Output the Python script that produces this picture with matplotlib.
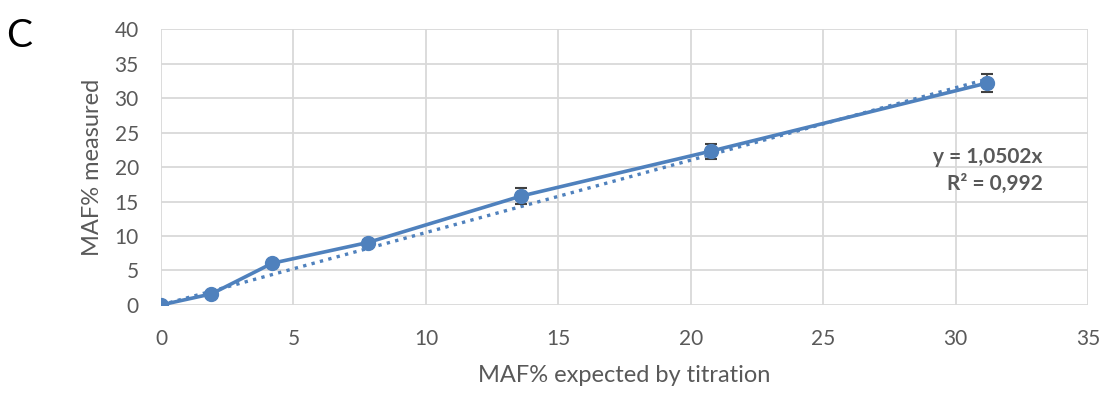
import matplotlib
matplotlib.use("Agg")
import matplotlib.pyplot as plt
import numpy as np

plt.rcParams['font.family'] = ['Lato', 'DejaVu Sans']

# data
expected = [0, 1.9, 4.2, 7.8, 13.6, 20.75, 31.2]
measured = [0, 1.6, 6.05, 9.05, 15.8, 22.3, 32.2]
err = [0.1, 0.3, 0.3, 0.4, 1.1, 1.1, 1.3]
slope = 1.0502
r2 = 0.992

blue = '#4F81BD'
grey = '#595959'

fig = plt.figure(figsize=(11.03, 3.94), dpi=100)
ax = fig.add_axes([0.146, 0.226, 0.8405, 0.70])

for v in np.arange(0, 41, 5):
    ax.axhline(v, color='#d9d9d9', lw=1.3, zorder=0)
for v in np.arange(0, 36, 5):
    ax.axvline(v, color='#d9d9d9', lw=1.3, zorder=0)

# trendline through origin
xt = np.array([0, max(expected)])
ax.plot(xt, slope * xt, ls=(0, (1, 1.6)), color=blue, lw=2.4, zorder=2)

ax.errorbar(expected, measured, yerr=err, fmt='none', ecolor='#404040',
            elinewidth=1.2, capsize=4, capthick=1.5, zorder=3)
ax.plot(expected, measured, color=blue, lw=2.6, marker='o', ms=10, zorder=4)

ax.set_xlim(0, 35)
ax.set_ylim(0, 40)
ax.set_xticks(np.arange(0, 36, 5))
ax.set_yticks(np.arange(0, 41, 5))
for s in ax.spines.values():
    s.set_visible(False)
ax.tick_params(length=0, labelsize=15, colors=grey)
ax.tick_params(axis='x', pad=17)
ax.tick_params(axis='y', pad=16)
ax.set_xlabel('MAF% expected by titration', fontsize=17, color=grey, labelpad=12)
ax.set_ylabel('MAF% measured', fontsize=17, color=grey, labelpad=8)

ax.text(0.951, 0.536, 'y = 1,0502x', transform=ax.transAxes, ha='right',
        va='center', fontsize=15, fontweight='bold', color=grey)
ax.text(0.951, 0.438, 'R² = 0,992', transform=ax.transAxes, ha='right',
        va='center', fontsize=15, fontweight='bold', color=grey)

fig.text(0.006, 0.955, 'C', fontsize=28, va='top', ha='left', color='black')

fig.savefig('out.png', dpi=100)
